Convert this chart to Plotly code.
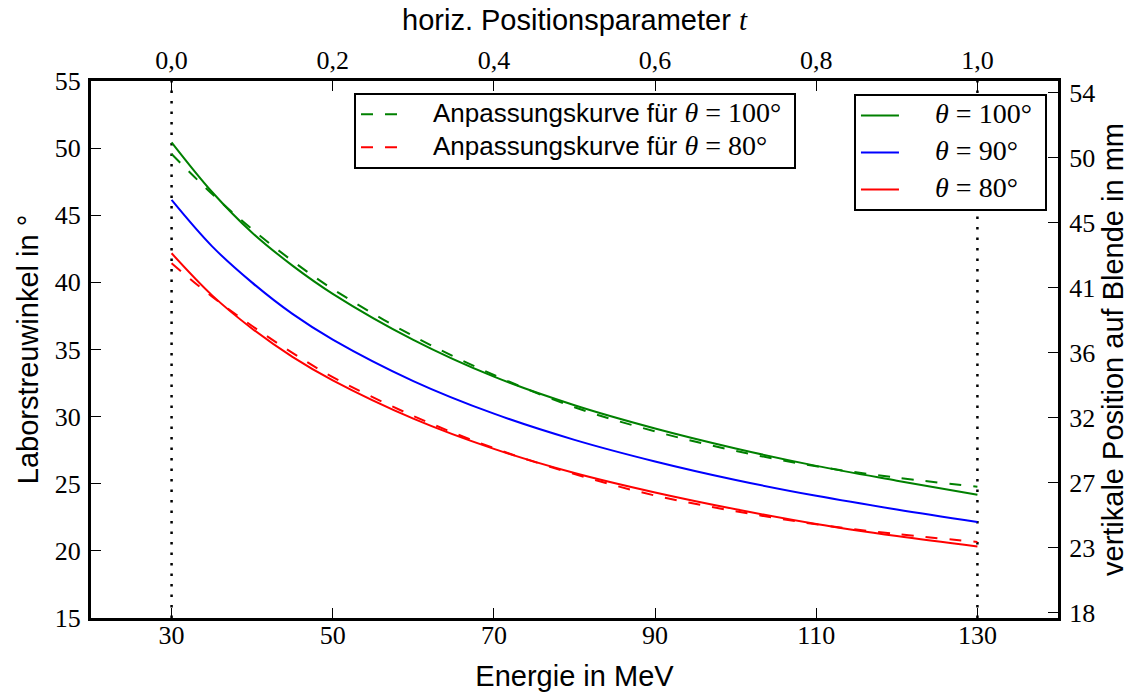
import plotly.graph_objects as go

# Beam energy grid (MeV)
energy = [30, 35, 40, 45, 50, 60, 70, 80, 90, 100, 110, 120, 130]

# Laboratory scattering angle (deg) for the three CM angles
theta_100 = [50.43, 46.75, 43.70, 41.25, 39.15, 35.72, 32.98, 30.85, 29.12, 27.63, 26.33, 25.23, 24.18]
theta_90 = [46.14, 42.70, 39.98, 37.65, 35.74, 32.65, 30.22, 28.27, 26.66, 25.28, 24.10, 23.08, 22.15]
theta_80 = [42.17, 39.05, 36.55, 34.45, 32.70, 29.85, 27.60, 25.80, 24.35, 23.10, 22.00, 21.10, 20.33]

# Fitted curves
fit_100 = [49.56, 46.60, 43.95, 41.60, 39.50, 36.00, 33.10, 30.70, 28.90, 27.45, 26.30, 25.45, 24.78]
fit_80 = [41.42, 38.95, 36.75, 34.75, 32.95, 30.05, 27.65, 25.72, 24.12, 22.95, 21.98, 21.25, 20.67]

# Range limits of the horizontal position parameter
e_limits = [30, 130]

# Axis ticks
e_ticks = [30, 50, 70, 90, 110, 130]
t_ticks = [0.0, 0.2, 0.4, 0.6, 0.8, 1.0]
t_labels = ["0,0", "0,2", "0,4", "0,6", "0,8", "1,0"]
angle_ticks = [15, 20, 25, 30, 35, 40, 45, 50, 55]
mm_ticks = [18, 22.5, 27, 31.5, 36, 40.5, 45, 49.5, 54]
mm_labels = ["18", "23", "27", "32", "36", "41", "45", "50", "54"]

SERIF = "Liberation Serif"
SANS = "Liberation Sans"
NBSP = "\u00a0"


def math(s, size=28):
    return f"<span style='font-family:{SERIF};font-size:{size}px'>{s}</span>"


def sans(s, size):
    return f"<span style='font-size:{size}px'>{s}</span>"


fit_label = lambda a: (sans(NBSP * 4 + "Anpassungskurve für ", 26)
                       + math(f"<i>θ</i> = {a}°") + sans(NBSP, 26))
curve_label = lambda a: sans(NBSP * 4, 28) + math(f"<i>θ</i> = {a}°") + sans(NBSP, 28)

fig = go.Figure()

# dotted markers for the parameter range
for e in e_limits:
    fig.add_trace(go.Scatter(
        x=[e, e], y=[15, 55], mode="lines",
        line=dict(color="black", width=2.5, dash="2.5px,8px"),
        showlegend=False, hoverinfo="skip"))

fig.add_trace(go.Scatter(
    x=energy, y=fit_100, mode="lines", line_shape="spline",
    line=dict(color="#008000", width=2, dash="12px,12px"),
    name=fit_label(100), legend="legend", legendgroup="f100"))
fig.add_trace(go.Scatter(
    x=energy, y=fit_80, mode="lines", line_shape="spline",
    line=dict(color="#ff0000", width=2, dash="12px,12px"),
    name=fit_label(80), legend="legend", legendgroup="f80"))

fig.add_trace(go.Scatter(
    x=energy, y=theta_100, mode="lines", line_shape="spline",
    line=dict(color="#008000", width=2),
    name=curve_label(100), legend="legend2", legendgroup="c100"))
fig.add_trace(go.Scatter(
    x=energy, y=theta_90, mode="lines", line_shape="spline",
    line=dict(color="#0000ff", width=2),
    name=curve_label(90), legend="legend2", legendgroup="c90"))
fig.add_trace(go.Scatter(
    x=energy, y=theta_80, mode="lines", line_shape="spline",
    line=dict(color="#ff0000", width=2),
    name=curve_label(80), legend="legend2", legendgroup="c80"))

# secondary axes (top: position parameter, right: position in mm)
fig.add_trace(go.Scatter(x=[None], y=[None], xaxis="x2", yaxis="y2",
                         showlegend=False, hoverinfo="skip"))

tickfont = dict(family=SERIF, size=26, color="black")
common = dict(showline=True, linecolor="black", linewidth=3, showgrid=False,
              zeroline=False, ticks="inside", ticklen=10, tickwidth=1,
              tickcolor="black", tickfont=tickfont, automargin=False)

legend_style = dict(xanchor="left", yanchor="top", bgcolor="white",
                    bordercolor="black", borderwidth=2, font=dict(size=20),
                    itemwidth=38, traceorder="grouped")

fig.update_layout(
    width=1138, height=692,
    margin=dict(l=91, r=80, t=81, b=74),
    paper_bgcolor="white", plot_bgcolor="white",
    font=dict(family=SANS, color="black", size=28),
    xaxis=dict(range=[20, 140], tickvals=e_ticks, ticklabelstandoff=-8,
               title=dict(text="Energie in MeV", font=dict(size=29), standoff=18),
               **common),
    xaxis2=dict(range=[-0.1, 1.1], overlaying="x", side="top",
                tickvals=t_ticks, ticktext=t_labels, ticklabelstandoff=-1,
                title=dict(text="horiz. Positionsparameter " + math("<i>t</i>", 29),
                           font=dict(size=29), standoff=7),
                **common),
    yaxis=dict(range=[15, 55], tickvals=angle_ticks, ticklabelstandoff=2,
               title=dict(text="Laborstreuwinkel in °", font=dict(size=29), standoff=8),
               **common),
    yaxis2=dict(range=[17.65, 54.83], overlaying="y", side="right",
                tickvals=mm_ticks, ticktext=mm_labels, ticklabelstandoff=3,
                title=dict(text="vertikale Position auf Blende in mm",
                           font=dict(size=29), standoff=9),
                **common),
    legend=dict(x=0.272, y=0.978, tracegroupgap=4, **legend_style),
    legend2=dict(x=0.789, y=0.976, tracegroupgap=8, **legend_style),
)

fig.write_html("out.html")
